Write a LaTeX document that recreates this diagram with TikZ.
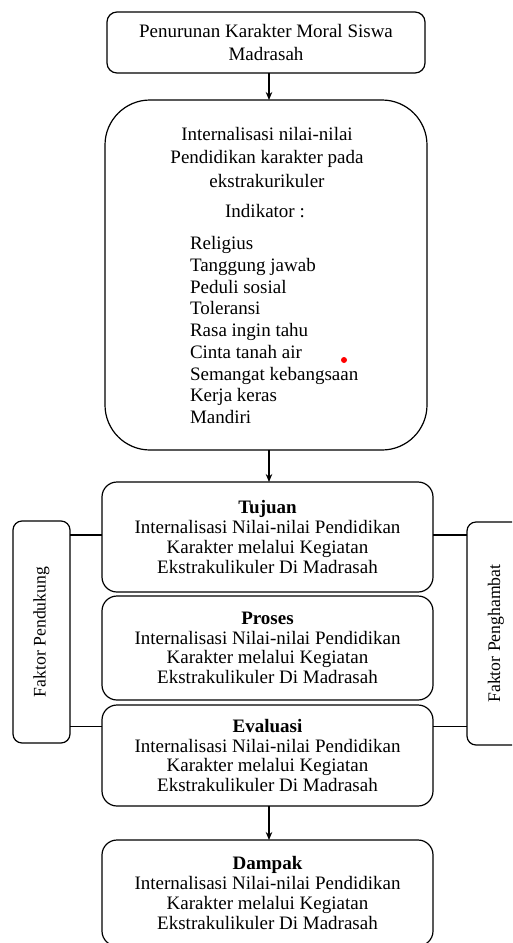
\documentclass[tikz,border=0pt]{standalone}
\usepackage{fontspec}
\setmainfont{Liberation Serif}
\usetikzlibrary{arrows.meta}
\begin{document}
\begin{tikzpicture}[x=1pt,y=-1pt,
  every node/.style={inner sep=0pt,outer sep=0pt},
  box/.style={draw,line width=1.2pt,align=center,font=\fontsize{19}{19.7}\selectfont},
  sidebox/.style={draw,line width=1.2pt,rounded corners=9pt},
  sidetext/.style={rotate=90,font=\fontsize{17.7}{20}\selectfont},
  conn/.style={line width=1.2pt},
  arr/.style={line width=1.2pt,-{Stealth[length=8pt,width=6.5pt]}}]
\clip (0,0) rectangle (512,943);
\fill[white] (0,0) rectangle (512,943);
% top box
\node[box,rounded corners=10pt,minimum width=318pt,minimum height=61pt,
      font=\fontsize{19}{23}\selectfont] (top) at (266,42.5)
  {Penurunan Karakter Moral Siswa\\Madrasah};
% big box
\node[box,rounded corners=45pt,minimum width=322pt,minimum height=350pt] (big) at (266,275) {};
\node[align=center,font=\fontsize{19}{23.5}\selectfont] (bigt) at (267,157)
  {Internalisasi nilai-nilai\\Pendidikan karakter pada\\ekstrakurikuler};
\node[font=\fontsize{19}{20}\selectfont] (ind) at (265,211) {Indikator :};
\node[anchor=west,align=left,font=\fontsize{19}{21.75}\selectfont] (list) at (190,330)
  {Religius\\Tanggung jawab\\Peduli sosial\\Toleransi\\Rasa ingin tahu\\Cinta tanah air\\Semangat kebangsaan\\Kerja keras\\Mandiri};
\node[circle,fill=red,minimum size=6pt] (dot) at (344,360) {};
% four stage boxes
\node[box,rounded corners=15pt,minimum width=331pt,minimum height=110pt] (tuj) at (267.5,537)
  {\textbf{Tujuan}\\Internalisasi Nilai-nilai Pendidikan\\Karakter melalui Kegiatan\\Ekstrakulikuler Di Madrasah};
\node[box,rounded corners=15pt,minimum width=331pt,minimum height=104pt] (pro) at (267.5,648)
  {\textbf{Proses}\\Internalisasi Nilai-nilai Pendidikan\\Karakter melalui Kegiatan\\Ekstrakulikuler Di Madrasah};
\node[box,rounded corners=15pt,minimum width=331pt,minimum height=101pt] (eva) at (267.5,755.5)
  {\textbf{Evaluasi}\\Internalisasi Nilai-nilai Pendidikan\\Karakter melalui Kegiatan\\Ekstrakulikuler Di Madrasah};
\node[box,rounded corners=15pt,minimum width=331pt,minimum height=106pt] (dam) at (267.5,893)
  {\textbf{Dampak}\\Internalisasi Nilai-nilai Pendidikan\\Karakter melalui Kegiatan\\Ekstrakulikuler Di Madrasah};
% side boxes
\node[sidebox,minimum width=57pt,minimum height=222pt] (lf) at (41.5,632) {};
\node[sidetext] (lft) at (lf.center) {Faktor Pendukung};
\node[sidebox,minimum width=58pt,minimum height=223pt] (rf) at (496,633.5) {};
\node[sidetext] (rft) at (rf.center) {Faktor Penghambat};
% helper coordinates
\coordinate (ax) at (269,0);
\coordinate (ya) at (0,535);
\coordinate (yb) at (0,726.5);
% arrows
\draw[arr] (top.south -| ax) -- (big.north -| ax);
\draw[arr] (big.south -| ax) -- (tuj.north -| ax);
\draw[arr] (eva.south -| ax) -- (dam.north -| ax);
% side connectors
\draw[conn] (lf.east |- ya) -- (tuj.west |- ya);
\draw[conn] (lf.east |- yb) -- (eva.west |- yb);
\draw[conn] (rf.west |- ya) -- (tuj.east |- ya);
\draw[conn] (rf.west |- yb) -- (eva.east |- yb);
\end{tikzpicture}
\end{document}
